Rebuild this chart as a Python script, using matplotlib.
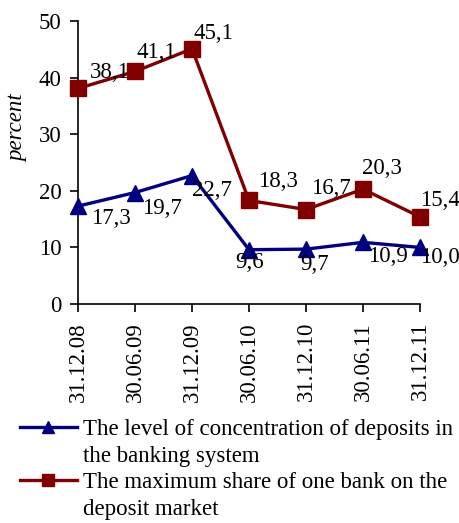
import matplotlib
matplotlib.use("Agg")
import matplotlib.pyplot as plt
from matplotlib.lines import Line2D

plt.rcParams['font.family'] = ['Liberation Serif', 'DejaVu Serif']

dates = ["31.12.08", "30.06.09", "31.12.09", "30.06.10", "31.12.10", "30.06.11", "31.12.11"]
concentration = [17.3, 19.7, 22.7, 9.6, 9.7, 10.9, 10.0]
max_share = [38.1, 41.1, 45.1, 18.3, 16.7, 20.3, 15.4]
conc_name = "The level of concentration of deposits in\nthe banking system"
share_name = "The maximum share of one bank on the\ndeposit market"

# label offsets in pixels (left edge, vertical centre)
conc_off = [(13, -12), (7, -16), (0, -15), (-14, -13), (-6, -15), (5, -14), (0, -10)]
share_off = [(12, 16), (1, 19), (1, 15), (9, 19), (5, 21), (-1, 21), (0, 16)]

blue = "#000080"
red = "#800000"
fs = 16.5

fig = plt.figure(figsize=(4.59, 5.23), dpi=100)
ax = fig.add_axes([0.170, 0.4187, 0.745, 0.541])

x = list(range(len(dates)))
ax.plot(x, concentration, color=blue, lw=2.4, marker="^", ms=11.5, clip_on=False, zorder=3)
ax.plot(x, max_share, color=red, lw=2.4, marker="s", ms=11.5, clip_on=False, zorder=3)

for i, v in enumerate(concentration):
    ax.annotate(f"{v:.1f}".replace(".", ","), (i, v), xytext=conc_off[i],
                textcoords="offset pixels", ha="left", va="center", fontsize=fs)
for i, v in enumerate(max_share):
    ax.annotate(f"{v:.1f}".replace(".", ","), (i, v), xytext=share_off[i],
                textcoords="offset pixels", ha="left", va="center", fontsize=fs)

ax.set_xlim(0, len(dates) - 1)
ax.set_ylim(0, 50)
ax.set_yticks([0, 10, 20, 30, 40, 50])
ax.set_xticks(x)
ax.set_xticklabels(dates, rotation=90)
ax.tick_params(axis="both", labelsize=fs, direction="out", length=6, width=1.2)
ax.tick_params(axis="y", pad=6)
ax.tick_params(axis="x", pad=7)
ax.spines["top"].set_visible(False)
ax.spines["right"].set_visible(False)
ax.spines["left"].set_linewidth(1.2)
ax.spines["bottom"].set_linewidth(1.2)
ax.set_ylabel("percent", fontsize=fs, style="italic")
ax.yaxis.set_label_coords(-0.145, 0.62)

blank = Line2D([], [], color="none")
handles = [Line2D([], [], color=blue, lw=2.4, marker="^", ms=9), blank,
           Line2D([], [], color=red, lw=2.4, marker="s", ms=9), blank]
labels = conc_name.split("\n") + share_name.split("\n")
fig.legend(handles, labels, loc="upper left", bbox_to_anchor=(0.043, 0.1985),
           frameon=False, fontsize=fs, handlelength=2.49, handletextpad=0.26,
           labelspacing=0.235, borderpad=0, borderaxespad=0)

fig.savefig("out.png", dpi=100)
